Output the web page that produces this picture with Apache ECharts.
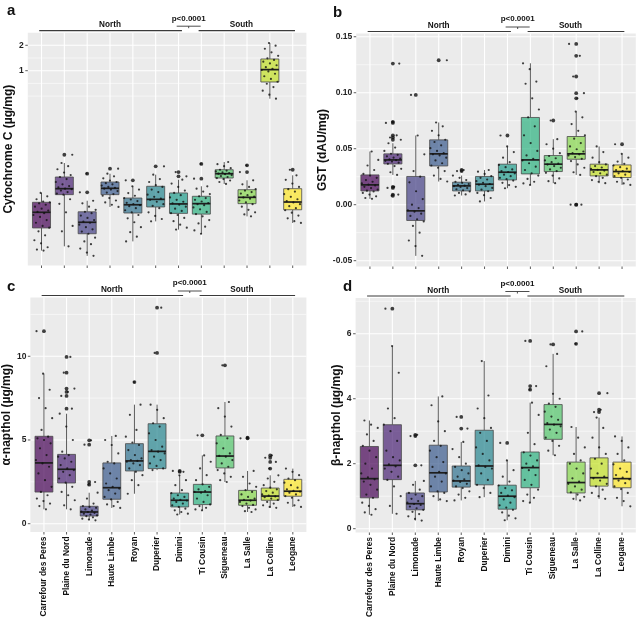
<!DOCTYPE html>
<html><head><meta charset="utf-8">
<script src="https://cdn.jsdelivr.net/npm/echarts@6/dist/echarts.min.js"></script>
<style>html,body{margin:0;padding:0;background:#fff}#c{width:640px;height:622px}</style>
</head><body><div id="c"></div>
<script>
// ---------------- DATA ----------------
const categories = ['Carrefour des Peres','Plaine du Nord','Limonade','Haute Limbe','Royan','Duperier','Dimini','Ti Cousin','Sigueneau','La Salle','La Colline','Leogane'];
const northRange = [0, 6];
const southRange = [7, 11];
const regionLabels = ['North', 'South'];
const pLabel = 'p<0.0001';
const palette = ['#440154','#482173','#433E85','#38598C','#2D708E','#25858E','#1E9B8A','#2BB07F','#51C56A','#85D54A','#C2DF23','#FDE725'];

// Panel a: Cytochrome C (log scale)
const cytoLow  = [0.0074,0.0083,0.0064,0.0243,0.0095,0.0164,0.0131,0.0117,0.0455,0.0188,0.466,0.0157];
const cytoQ1   = [0.0137,0.0340,0.0117,0.0340,0.0206,0.0243,0.0204,0.0200,0.0535,0.0266,0.735,0.0225];
const cytoMed  = [0.0210,0.0400,0.0160,0.0404,0.0258,0.0299,0.0264,0.0266,0.0602,0.0316,1.03,0.0278];
const cytoQ3   = [0.0276,0.0550,0.0213,0.0480,0.0310,0.0427,0.0356,0.0325,0.0671,0.0389,1.377,0.0400];
const cytoHigh = [0.0356,0.0806,0.0288,0.0602,0.0427,0.0586,0.0511,0.0427,0.0828,0.0503,2.13,0.0576];
const cytoOut  = [[],[0.101],[0.0602,0.0362],[0.069],[0.0503],[0.0737],[0.063,0.0561],[0.0785,0.0525],[],[0.0757,0.063],[],[0.0671]];
const cytoPts = [
 [0.0074,0.0076,0.0081,0.0090,0.0098,0.0112,0.0125,0.0138,0.0145,0.0158,0.0170,0.0185,0.0195,0.0205,0.0212,0.0220,0.0232,0.0245,0.0258,0.0268,0.0275,0.0282,0.0300,0.0325,0.0356],
 [0.0083,0.0125,0.0145,0.0210,0.0265,0.0300,0.0340,0.0350,0.0365,0.0380,0.0395,0.0400,0.0415,0.0430,0.0450,0.0480,0.0520,0.0550,0.0580,0.0620,0.0680,0.0740,0.0806],
 [0.0064,0.0070,0.0078,0.0088,0.0095,0.0105,0.0117,0.0124,0.0132,0.0140,0.0150,0.0158,0.0163,0.0170,0.0180,0.0192,0.0205,0.0213,0.0225,0.0245,0.0268,0.0288],
 [0.0243,0.0258,0.0275,0.0290,0.0310,0.0330,0.0345,0.0360,0.0375,0.0390,0.0400,0.0410,0.0420,0.0435,0.0450,0.0465,0.0480,0.0500,0.0530,0.0560,0.0602],
 [0.0095,0.0108,0.0122,0.0140,0.0160,0.0178,0.0195,0.0210,0.0222,0.0235,0.0248,0.0255,0.0262,0.0272,0.0285,0.0298,0.0310,0.0330,0.0355,0.0390,0.0427],
 [0.0164,0.0175,0.0190,0.0210,0.0235,0.0250,0.0262,0.0280,0.0295,0.0305,0.0320,0.0340,0.0365,0.0390,0.0420,0.0440,0.0480,0.0520,0.0586],
 [0.0131,0.0138,0.0150,0.0165,0.0180,0.0195,0.0205,0.0218,0.0232,0.0245,0.0258,0.0268,0.0280,0.0295,0.0315,0.0335,0.0356,0.0380,0.0420,0.0460,0.0511],
 [0.0117,0.0128,0.0142,0.0155,0.0170,0.0188,0.0200,0.0212,0.0228,0.0240,0.0255,0.0262,0.0270,0.0282,0.0295,0.0310,0.0325,0.0345,0.0370,0.0400,0.0427],
 [0.0455,0.0480,0.0500,0.0520,0.0535,0.0550,0.0565,0.0580,0.0595,0.0602,0.0612,0.0625,0.0640,0.0655,0.0671,0.0700,0.0740,0.0780,0.0828],
 [0.0188,0.0198,0.0210,0.0225,0.0245,0.0262,0.0275,0.0290,0.0305,0.0315,0.0322,0.0335,0.0350,0.0365,0.0380,0.0395,0.0420,0.0450,0.0503],
 [0.466,0.52,0.58,0.64,0.70,0.74,0.80,0.86,0.92,0.98,1.02,1.05,1.10,1.16,1.22,1.28,1.34,1.40,1.50,1.65,1.82,1.98,2.13],
 [0.0157,0.0165,0.0178,0.0192,0.0208,0.0222,0.0235,0.0248,0.0262,0.0275,0.0285,0.0300,0.0320,0.0345,0.0370,0.0395,0.0420,0.0460,0.0510,0.0576]
];
const cytoMajor = [1, 2];
const cytoMinor = [0.5, 0.7071, 1.4142];

// Panel b: GST
const gstLow  = [0.0052,0.0266,-0.0457,0.0207,0.0082,0.0029,0.0147,0.0177,0.0192,0.0266,0.0192,0.0177];
const gstQ1   = [0.0123,0.0364,-0.0141,0.0346,0.0123,0.0123,0.0221,0.0275,0.0296,0.0406,0.0257,0.0243];
const gstMed  = [0.0177,0.0400,-0.0055,0.0454,0.0168,0.0183,0.0290,0.0400,0.0362,0.0454,0.0311,0.0296];
const gstQ3   = [0.0266,0.0454,0.0252,0.0579,0.0201,0.0252,0.0362,0.0779,0.0439,0.0609,0.0362,0.0355];
const gstHigh = [0.0475,0.0549,0.0618,0.0734,0.0260,0.0310,0.0520,0.1263,0.0585,0.0832,0.0520,0.0454];
const gstOut  = [[],[0.126,0.074,0.073,0.062,0.060,0.058,0.016,0.015,0.009,0.008],[0.098],[0.129],[0.031,0.030],[],[0.0618],[],[0.0752],[0.1436,0.133,0.1145,0.0996,0.095,0.0,0.0],[],[0.054]];
const gstPts = [
 [0.0052,0.0060,0.0075,0.0090,0.0105,0.0118,0.0125,0.0135,0.0148,0.0160,0.0172,0.0180,0.0190,0.0205,0.0220,0.0240,0.0260,0.0275,0.0310,0.0350,0.0400,0.0475],
 [0.0266,0.0290,0.0320,0.0345,0.0365,0.0375,0.0385,0.0392,0.0398,0.0405,0.0412,0.0420,0.0432,0.0445,0.0455,0.0480,0.0510,0.0549],
 [-0.0457,-0.0370,-0.0320,-0.0250,-0.0190,-0.0150,-0.0130,-0.0100,-0.0080,-0.0062,-0.0050,-0.0030,0.0000,0.0050,0.0120,0.0200,0.0250,0.0300,0.0450,0.0618],
 [0.0207,0.0230,0.0260,0.0300,0.0330,0.0350,0.0370,0.0395,0.0420,0.0440,0.0450,0.0460,0.0480,0.0505,0.0530,0.0560,0.0580,0.0620,0.0660,0.0700,0.0734],
 [0.0082,0.0092,0.0105,0.0118,0.0128,0.0138,0.0148,0.0158,0.0165,0.0170,0.0178,0.0185,0.0195,0.0205,0.0220,0.0240,0.0260],
 [0.0029,0.0060,0.0085,0.0105,0.0120,0.0135,0.0150,0.0165,0.0178,0.0185,0.0195,0.0210,0.0225,0.0240,0.0255,0.0275,0.0295,0.0310],
 [0.0147,0.0160,0.0175,0.0195,0.0215,0.0228,0.0240,0.0255,0.0268,0.0280,0.0292,0.0300,0.0315,0.0335,0.0355,0.0380,0.0420,0.0470,0.0520],
 [0.0177,0.0190,0.0205,0.0230,0.0260,0.0280,0.0310,0.0340,0.0370,0.0395,0.0410,0.0440,0.0480,0.0550,0.0620,0.0700,0.0780,0.0850,0.0950,0.1080,0.1100,0.1210,0.1263],
 [0.0192,0.0210,0.0235,0.0260,0.0285,0.0300,0.0315,0.0330,0.0345,0.0358,0.0368,0.0380,0.0395,0.0415,0.0435,0.0460,0.0500,0.0540,0.0585],
 [0.0266,0.0290,0.0330,0.0360,0.0390,0.0410,0.0425,0.0440,0.0450,0.0460,0.0475,0.0495,0.0520,0.0550,0.0590,0.0620,0.0660,0.0720,0.0780,0.0832],
 [0.0192,0.0205,0.0220,0.0240,0.0255,0.0268,0.0280,0.0292,0.0305,0.0312,0.0320,0.0332,0.0345,0.0360,0.0380,0.0420,0.0470,0.0520],
 [0.0177,0.0190,0.0205,0.0225,0.0240,0.0255,0.0268,0.0280,0.0292,0.0300,0.0310,0.0322,0.0335,0.0350,0.0365,0.0385,0.0420,0.0454]
];
const gstMajor = [-0.05, 0, 0.05, 0.10, 0.15];
const gstMinor = [-0.025, 0.025, 0.075, 0.125];

// Panel c: alpha-napthol
const alphaLow  = [0.86,0.86,0.20,0.94,1.79,3.20,0.55,0.80,2.49,0.70,0.95,1.00];
const alphaQ1   = [1.89,2.43,0.46,1.46,3.15,3.29,1.00,1.14,3.33,1.10,1.40,1.64];
const alphaMed  = [3.63,3.25,0.70,2.15,3.75,4.32,1.40,1.89,4.04,1.40,1.65,1.94];
const alphaQ3   = [5.22,4.14,1.04,3.63,4.78,5.97,1.83,2.35,5.24,1.99,2.13,2.65];
const alphaHigh = [8.96,6.57,1.85,5.24,7.11,7.11,2.89,4.08,7.27,3.15,2.89,3.29];
const alphaOut  = [[11.5],[9.96,9.02,8.07,7.87,7.63,6.87],[4.98,4.72,2.49,2.33],[],[8.46],[12.9,10.2],[3.15,3.10],[5.28],[9.46],[5.14,5.10],[4.08,3.94,3.69,3.29],[]];
const alphaPts = [
 [0.86,1.05,1.2,1.35,1.5,1.7,1.9,2.2,2.6,3.0,3.4,3.6,3.8,4.1,4.5,4.8,5.0,5.1,5.2,5.6,6.3,6.9,7.5,8.0,8.96],
 [0.86,1.1,1.4,1.7,1.9,2.2,2.45,2.7,2.9,3.1,3.2,3.3,3.5,3.7,3.9,4.0,4.1,4.3,5.0,5.8,6.57],
 [0.2,0.25,0.3,0.38,0.45,0.5,0.55,0.6,0.65,0.7,0.72,0.78,0.85,0.95,1.0,1.05,1.2,1.5,1.85],
 [0.94,1.05,1.15,1.3,1.45,1.6,1.8,2.0,2.1,2.2,2.4,2.7,3.0,3.3,3.6,3.7,4.2,4.7,5.0,5.24],
 [1.79,2.3,2.6,2.9,3.1,3.3,3.5,3.6,3.7,3.75,3.8,3.9,4.1,4.4,4.7,4.85,5.2,5.6,6.5,7.11],
 [3.2,3.3,3.45,3.6,3.8,4.0,4.2,4.3,4.4,4.6,5.0,5.4,5.8,6.0,6.3,6.8,7.11],
 [0.55,0.6,0.7,0.8,0.9,1.0,1.1,1.2,1.3,1.38,1.42,1.5,1.6,1.7,1.82,2.0,2.3,2.6,2.89],
 [0.8,0.85,0.95,1.05,1.15,1.3,1.5,1.7,1.85,1.9,1.95,2.05,2.2,2.35,2.6,2.9,3.3,3.7,4.08],
 [2.49,2.6,2.8,3.0,3.2,3.4,3.6,3.8,4.0,4.05,4.2,4.5,4.8,5.1,5.3,5.8,6.4,6.9,7.27],
 [0.7,0.75,0.85,0.95,1.05,1.12,1.2,1.3,1.38,1.42,1.5,1.6,1.75,1.9,2.0,2.2,2.4,2.8,3.15],
 [0.95,1.0,1.1,1.2,1.3,1.42,1.5,1.58,1.63,1.68,1.75,1.85,1.95,2.05,2.15,2.3,2.5,2.7,2.89],
 [1.0,1.1,1.25,1.4,1.55,1.65,1.75,1.85,1.92,1.96,2.05,2.15,2.3,2.45,2.6,2.7,2.9,3.1,3.29]
];
const alphaMajor = [0, 5, 10];
const alphaMinor = [2.5, 7.5, 12.5];

// Panel d: beta-napthol
const betaLow  = [0.43,0.46,0.25,0.85,0.87,0.97,0.26,0.80,2.26,0.87,0.92,0.69];
const betaQ1   = [0.95,1.51,0.58,1.13,1.28,1.35,0.60,1.26,2.75,1.10,1.31,1.26];
const betaMed  = [1.54,1.95,0.77,1.72,1.47,1.93,1.00,1.88,3.21,1.42,1.57,1.54];
const betaQ3   = [2.53,3.20,1.10,2.57,1.93,3.03,1.34,2.36,3.82,2.05,2.18,2.05];
const betaHigh = [3.33,5.62,1.47,4.07,2.67,5.16,2.10,3.88,5.38,3.13,3.42,2.84];
const betaOut  = [[],[6.77],[2.89,2.85,1.95],[],[3.44,3.08],[],[2.64],[5.78,4.39,4.28],[5.67],[6.07,5.69],[4.17,3.66,3.59],[]];
const betaPts = [
 [0.43,0.5,0.6,0.7,0.8,0.95,1.05,1.2,1.35,1.45,1.52,1.58,1.7,1.85,2.0,2.2,2.4,2.55,2.7,2.9,3.1,3.2,3.33],
 [0.46,0.7,1.0,1.3,1.5,1.6,1.75,1.85,1.92,1.98,2.1,2.2,2.4,2.7,3.0,3.2,3.4,3.7,4.8,5.62],
 [0.25,0.3,0.38,0.45,0.52,0.58,0.63,0.68,0.73,0.76,0.8,0.85,0.92,1.0,1.05,1.1,1.2,1.35,1.47],
 [0.85,0.9,1.0,1.1,1.15,1.3,1.45,1.6,1.7,1.75,1.9,2.05,2.2,2.4,2.55,2.7,3.0,3.3,3.8,4.07],
 [0.87,0.95,1.05,1.15,1.25,1.3,1.38,1.44,1.48,1.52,1.6,1.7,1.8,1.9,2.0,2.2,2.45,2.67],
 [0.97,1.1,1.25,1.35,1.5,1.7,1.85,1.9,1.95,2.1,2.3,2.5,2.7,2.95,3.1,3.4,3.7,4.1,5.16],
 [0.26,0.32,0.4,0.5,0.58,0.65,0.72,0.8,0.9,0.97,1.02,1.1,1.18,1.25,1.33,1.45,1.6,1.8,2.1],
 [0.8,0.85,0.95,1.05,1.2,1.35,1.5,1.65,1.8,1.87,1.92,2.0,2.1,2.25,2.35,2.6,2.95,3.5,3.88],
 [2.26,2.4,2.55,2.7,2.8,2.95,3.05,3.15,3.2,3.25,3.35,3.45,3.6,3.75,3.85,4.0,4.15,5.0,5.38],
 [0.87,0.92,0.98,1.05,1.12,1.2,1.3,1.38,1.45,1.55,1.7,1.85,2.0,2.1,2.3,2.5,2.8,3.13],
 [0.92,1.0,1.1,1.2,1.3,1.38,1.48,1.55,1.6,1.7,1.85,2.0,2.15,2.3,2.5,2.8,3.1,3.42],
 [0.69,0.85,0.95,1.1,1.22,1.3,1.4,1.48,1.52,1.57,1.65,1.75,1.85,1.98,2.1,2.3,2.5,2.7,2.84]
];
const betaMajor = [0, 2, 4, 6];
const betaMinor = [1, 3, 5, 7];

// ---------------- LAYOUT / STYLE ----------------
const FONT = 'Liberation Sans';
const GRIDS = [
  {left: 27.8, top: 32.7, width: 278.6, height: 232.8},
  {left: 356.2, top: 33.5, width: 279.6, height: 233},
  {left: 27.8, top: 297.5, width: 278.6, height: 234.5},
  {left: 355.6, top: 298, width: 280.2, height: 234.5}
];
const fmtStep = (step, digits) => v => {
  const k = v / step;
  return Math.abs(k - Math.round(k)) < 1e-6 ? (Math.round(k) * step).toFixed(digits) : '';
};
const panels = [
  {title: 'Cytochrome C (µg/mg)', log: true, min: 0.00492, max: 2.82, nameGap: 9, letter: 'a', letterX: 7, letterY: 11,
   low: cytoLow, q1: cytoQ1, med: cytoMed, q3: cytoQ3, high: cytoHigh, out: cytoOut, pts: cytoPts, major: cytoMajor, minor: cytoMinor,
   fmt: v => (Math.abs(v - 1) < 1e-6 ? '1' : (Math.abs(v - 2) < 1e-6 ? '2' : '')), showX: false},
  {title: 'GST (dAU/mg)', log: false, min: -0.0552, max: 0.1529, step: 0.05, nameGap: 21, letter: 'b', letterX: 333, letterY: 13,
   low: gstLow, q1: gstQ1, med: gstMed, q3: gstQ3, high: gstHigh, out: gstOut, pts: gstPts, major: gstMajor, minor: gstMinor,
   fmt: fmtStep(0.05, 2), showX: false},
  {title: 'α-napthol (µg/mg)', log: false, min: -0.496, max: 13.51, step: 5, nameGap: 10.5, letter: 'c', letterX: 7, letterY: 287,
   low: alphaLow, q1: alphaQ1, med: alphaMed, q3: alphaQ3, high: alphaHigh, out: alphaOut, pts: alphaPts, major: alphaMajor, minor: alphaMinor,
   fmt: fmtStep(5, 0), showX: true},
  {title: 'β-napthol (µg/mg)', log: false, min: -0.117, max: 7.1, step: 2, nameGap: 12, letter: 'd', letterX: 343, letterY: 287,
   low: betaLow, q1: betaQ1, med: betaMed, q3: betaQ3, high: betaHigh, out: betaOut, pts: betaPts, major: betaMajor, minor: betaMinor,
   fmt: fmtStep(2, 0), showX: true}
];
const BOX_W = 0.79;
const JITTER_W = 0.38;
const TICK_LEN = 2.5;
const TICK_COLOR = '#333333';

function hLineRender(width, withTick) {
  return function (params, api) {
    const cs = params.coordSys;
    const y = api.coord([0, api.value(1)])[1];
    const kids = [{type: 'line', shape: {x1: cs.x, y1: y, x2: cs.x + cs.width, y2: y},
            style: {stroke: '#FFFFFF', lineWidth: width}}];
    if (withTick) kids.push({type: 'line', shape: {x1: cs.x - TICK_LEN, y1: y, x2: cs.x, y2: y},
            style: {stroke: TICK_COLOR, lineWidth: 0.8}});
    return {type: 'group', silent: true, children: kids};
  };
}
function vLineRender(params, api) {
  const cs = params.coordSys;
  const x = api.coord([api.value(0), api.value(1)])[0];
  const b = cs.y + cs.height;
  return {type: 'group', silent: true, children: [
    {type: 'line', shape: {x1: x, y1: cs.y, x2: x, y2: b}, style: {stroke: '#FFFFFF', lineWidth: 1.1}},
    {type: 'line', shape: {x1: x, y1: b, x2: x, y2: b + TICK_LEN}, style: {stroke: TICK_COLOR, lineWidth: 0.8}}
  ]};
}
function boxRender(params, api) {
  const i = api.value(0);
  const pLow = api.coord([i, api.value(1)]);
  const pQ1 = api.coord([i, api.value(2)]);
  const pMed = api.coord([i, api.value(3)]);
  const pQ3 = api.coord([i, api.value(4)]);
  const pHigh = api.coord([i, api.value(5)]);
  const unit = api.coord([i + 1, api.value(3)])[0] - pMed[0];
  const half = unit * BOX_W / 2;
  const x = pMed[0];
  return {type: 'group', silent: true, children: [
    {type: 'line', shape: {x1: x, y1: pQ3[1], x2: x, y2: pHigh[1]}, style: {stroke: '#5a5a5a', lineWidth: 1}},
    {type: 'line', shape: {x1: x, y1: pQ1[1], x2: x, y2: pLow[1]}, style: {stroke: '#5a5a5a', lineWidth: 1}},
    {type: 'rect', shape: {x: x - half, y: pQ3[1], width: half * 2, height: pQ1[1] - pQ3[1]},
     style: {fill: palette[i], fillOpacity: 0.7, stroke: '#4a4a4a', lineWidth: 0.8}},
    {type: 'line', shape: {x1: x - half, y1: pMed[1], x2: x + half, y2: pMed[1]}, style: {stroke: '#1e1e1e', lineWidth: 1.7}}
  ]};
}
function jitterOffset(i, j) {
  const f = ((j + 1) * 0.6180339887 + i * 0.1234) % 1;
  return (f * 2 - 1) * JITTER_W;
}

const option = {animation: false, backgroundColor: '#FFFFFF', textStyle: {fontFamily: FONT},
  grid: [], xAxis: [], yAxis: [], series: []};

panels.forEach((p, g) => {
  option.grid.push(Object.assign({show: true, backgroundColor: '#EBEBEB', borderWidth: 0}, GRIDS[g]));
  option.xAxis.push({type: 'value', gridIndex: g, min: -0.6, max: 11.6, minInterval: 1, maxInterval: 1,
    axisLine: {show: false}, splitLine: {show: false}, axisTick: {show: false},
    axisLabel: {show: p.showX, rotate: 90, margin: 4.5, fontSize: 8.4, fontWeight: 'bold', color: '#111', fontFamily: FONT,
      formatter: v => { const r = Math.round(v); return (Math.abs(v - r) < 1e-6 && r >= 0 && r < categories.length) ? categories[r] : ''; }}});
  const y = {gridIndex: g, min: p.min, max: p.max, name: p.title, nameLocation: 'middle', nameGap: p.nameGap, nameRotate: 90,
    nameTextStyle: {fontSize: 12, fontWeight: 'bold', color: '#111', fontFamily: FONT},
    axisLine: {show: false}, splitLine: {show: false}, axisTick: {show: false},
    axisLabel: {fontSize: 8.5, fontWeight: 'bold', color: '#222', margin: 4, fontFamily: FONT, formatter: p.fmt}};
  if (p.log) { y.type = 'log'; y.logBase = 2; }
  else { y.type = 'value'; y.minInterval = p.step; y.maxInterval = p.step; }
  option.yAxis.push(y);

  const ref = p.max;
  option.series.push({type: 'custom', xAxisIndex: g, yAxisIndex: g, z: 1, silent: true, clip: false, renderItem: hLineRender(0.55, false),
    encode: {x: 0, y: 1}, data: p.minor.map(v => [0, v])});
  option.series.push({type: 'custom', xAxisIndex: g, yAxisIndex: g, z: 1, silent: true, clip: false, renderItem: hLineRender(1.1, true),
    encode: {x: 0, y: 1}, data: p.major.map(v => [0, v])});
  option.series.push({type: 'custom', xAxisIndex: g, yAxisIndex: g, z: 1, silent: true, clip: false, renderItem: vLineRender,
    encode: {x: 0, y: 1}, data: categories.map((c, i) => [i, ref])});
  option.series.push({type: 'custom', xAxisIndex: g, yAxisIndex: g, z: 2, silent: true, renderItem: boxRender,
    encode: {x: 0, y: [1, 2, 3, 4, 5]},
    data: categories.map((c, i) => [i, p.low[i], p.q1[i], p.med[i], p.q3[i], p.high[i]])});
  const pts = [];
  categories.forEach((c, i) => {
    p.pts[i].concat(p.out[i]).forEach((v, j) => pts.push([i + jitterOffset(i, j), v]));
  });
  option.series.push({type: 'scatter', xAxisIndex: g, yAxisIndex: g, z: 3, silent: true, symbol: 'circle', symbolSize: 2.2,
    itemStyle: {color: '#111'}, data: pts});
  const outs = [];
  categories.forEach((c, i) => p.out[i].forEach(v => outs.push([i, v])));
  option.series.push({type: 'scatter', xAxisIndex: g, yAxisIndex: g, z: 4, silent: true, symbol: 'circle', symbolSize: 3.8,
    itemStyle: {color: '#111'}, data: outs});
});

const chart = echarts.init(document.getElementById('c'));
chart.setOption(option);

// annotations (North / South brackets, p-value, panel letters), anchored to the axes
const gEls = [];
const txt = (x, y, text, size, align) => ({type: 'text', silent: true,
  style: {x: x, y: y, text: text, fill: '#111', font: 'bold ' + size + 'px ' + FONT,
          textAlign: align || 'center', textVerticalAlign: 'middle', align: align || 'center', verticalAlign: 'middle'}});
const ln = (x1, y1, x2, y2, w) => ({type: 'line', silent: true, shape: {x1: x1, y1: y1, x2: x2, y2: y2},
  style: {stroke: '#3a3a3a', lineWidth: w}});
panels.forEach((p, g) => {
  const X = v => chart.convertToPixel({xAxisIndex: g}, v);
  const top = GRIDS[g].top;
  gEls.push(ln(X(northRange[0] - 0.1), top - 2, X(northRange[1] + 0.15), top - 2, 1.2));
  gEls.push(ln(X(southRange[0] - 0.12), top - 2, X(southRange[1] + 0.1), top - 2, 1.2));
  gEls.push(txt(X((northRange[0] + northRange[1]) / 2), top - 7.5, regionLabels[0], 8.2));
  gEls.push(txt(X((southRange[0] + southRange[1]) / 2 - 0.25), top - 7.5, regionLabels[1], 8.2));
  const b1 = X(northRange[1] - 0.08), b2 = X(southRange[0] - 0.03), bm = (b1 + b2) / 2;
  gEls.push(ln(b1, top - 6.5, b2, top - 6.5, 0.9));
  gEls.push(ln(bm, top - 6.5, bm, top - 4.5, 0.9));
  gEls.push(txt(bm, top - 14.3, pLabel, 8));
  gEls.push(txt(p.letterX, p.letterY, p.letter, 15, 'left'));
});
chart.setOption({graphic: {elements: gEls}});
</script>
</body></html>
